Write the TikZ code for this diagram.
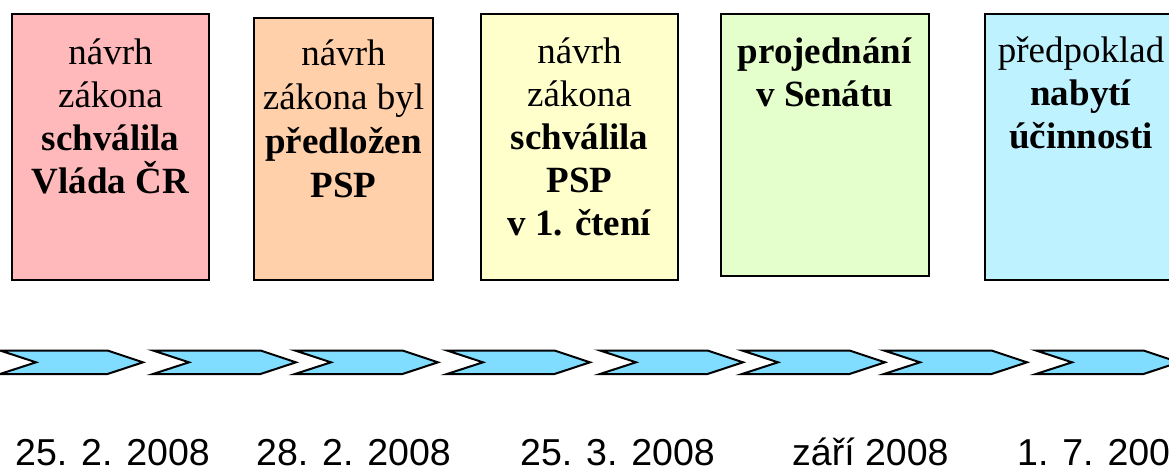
\documentclass[tikz,border=0pt]{standalone}
\usepackage{fontspec}
\setmainfont{Liberation Serif}
\newfontfamily\datefont{Liberation Sans}
\definecolor{cA}{HTML}{FFB9BA}
\definecolor{cB}{HTML}{FFD0AA}
\definecolor{cC}{HTML}{FFFFCC}
\definecolor{cD}{HTML}{E5FFCC}
\definecolor{cE}{HTML}{BFF2FF}
\definecolor{chevfill}{HTML}{80DDFF}
\tikzset{
  stagebox/.style={draw=black, line width=2pt, rectangle, inner sep=0pt},
  stagetext/.style={anchor=base, inner sep=0pt, align=center, font=\fontsize{37}{43}\selectfont},
  chev/.style={draw=black, fill=chevfill, line width=2pt, line join=miter},
  datetext/.style={anchor=base west, inner sep=0pt, font=\datefont\fontsize{37.5}{40}\selectfont}
}
\begin{document}
\begin{tikzpicture}[x=1pt, y=-1pt]
\useasboundingbox (0,0) rectangle (1169,469);
\begin{scope}
\clip (0,0) rectangle (1169,469);
% boxes
\node[stagebox, fill=cA, minimum width=197pt, minimum height=266pt] (b1) at (110.5,147) {};
\node[stagebox, fill=cB, minimum width=179pt, minimum height=262pt] (b2) at (343.5,149) {};
\node[stagebox, fill=cC, minimum width=197pt, minimum height=266pt] (b3) at (579.5,147) {};
\node[stagebox, fill=cD, minimum width=208pt, minimum height=262pt] (b4) at (825,145) {};
\node[stagebox, fill=cE, minimum width=192pt, minimum height=266pt] (b5) at (1081,147) {};
% texts (anchor = baseline of last line)
\node[stagetext] (t1) at (110.5,193) {návrh\\zákona\\\textbf{schválila}\\\textbf{Vláda ČR}};
\node[stagetext, font=\fontsize{37}{43.7}\selectfont] (t2) at (343.5,197) {návrh\\zákona byl\\\textbf{předložen}\\\textbf{PSP}};
\node[stagetext] (t3) at (579.5,235) {návrh\\zákona\\\textbf{schválila}\\\textbf{PSP}\\\textbf{v 1. čtení}};
\node[stagetext] (t4) at (825,106) {\textbf{projednání}\\\textbf{v Senátu}};
\node[stagetext] (t5) at (1081,148) {předpoklad\\\textbf{nabytí}\\\textbf{účinnosti}};
% chevrons
\foreach \L in {0,153,295,447,600,742,884,1036} {
  \draw[chev] (\L,350.5) -- (\L+107.5,350.5) -- (\L+143,362.3) -- (\L+107.5,374) -- (\L,374) -- (\L+36,362.3) -- cycle;
}
% dates
\node[datetext] (d1) at (15,465) {25. 2. 2008};
\node[datetext] (d2) at (256,465) {28. 2. 2008};
\node[datetext] (d3) at (520,465) {25. 3. 2008};
\node[datetext] (d4) at (792,465) {září 2008};
\node[datetext] (d5) at (1017,465) {1. 7. 2009};
\end{scope}
\end{tikzpicture}
\end{document}
